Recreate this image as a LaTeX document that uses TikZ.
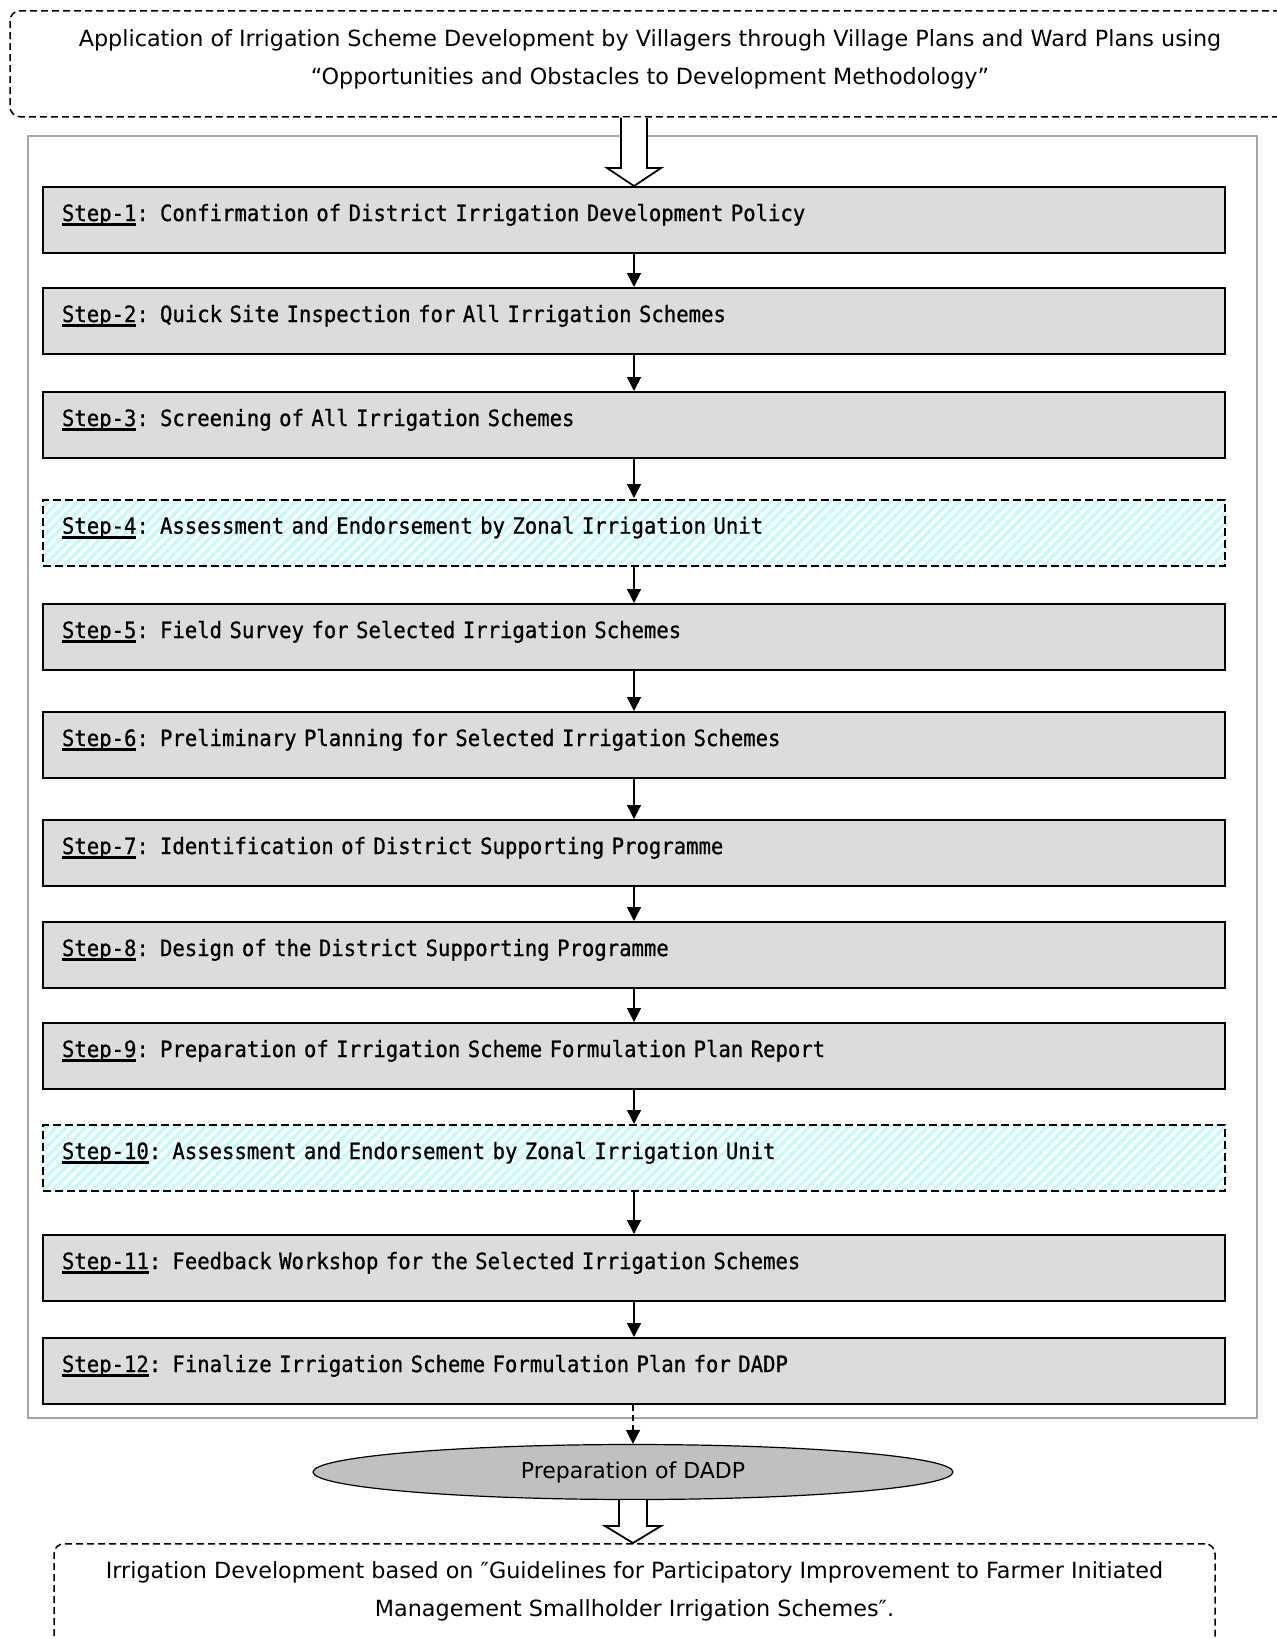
\documentclass[tikz,border=0pt]{standalone}
\usepackage{fontspec}
\setmainfont{DejaVu Sans}
\newfontfamily\stepfont[FakeStretch=0.92, FakeBold=0.8]{DejaVu Sans Mono}
\usetikzlibrary{arrows.meta, calc, patterns.meta, shapes.geometric}
\definecolor{boxgray}{HTML}{DCDCDC}
\definecolor{framegray}{HTML}{A6A6A6}
\definecolor{ovalgray}{HTML}{C0C0C0}
\definecolor{hatchcyan}{HTML}{C4FAFA}
\newcommand{\stepno}[1]{\setbox0\hbox{#1}\rlap{\rule[-2.6pt]{\wd0}{1.6pt}}#1}
\tikzset{
	x=0.5pt, y=-0.5pt,
	tri/.tip={Triangle[length=7pt, width=7pt]},
	% step boxes
	stepbox/.style={draw, line width=1pt, fill=boxgray, minimum width=591pt,
		inner xsep=9.5pt, inner ysep=0pt, text width=572pt, align=left,
		text height=17pt, text depth=16pt, font=\stepfont\fontsize{11.2}{13}\selectfont},
	zonebox/.style={stepbox, fill=none, dash pattern=on 4pt off 2pt,
		preaction={fill=white},
		pattern={Lines[angle=45, distance=3.5pt, line width=1.7pt]}, pattern color=hatchcyan},
	% dashed notes at top and bottom
	note/.style={draw, line width=0.75pt, rounded corners=5pt, dash pattern=on 3.5pt off 2pt,
		inner sep=0pt, align=center, font=\fontsize{11.15}{19}\selectfont},
	oval/.style={ellipse, draw, line width=0.6pt, fill=ovalgray, minimum width=320pt,
		minimum height=27.5pt, inner sep=0pt, font=\fontsize{11}{13}\selectfont},
	frame/.style={draw=framegray, line width=1pt},
	link/.style={-tri, line width=0.75pt},
	hollow/.style={draw, line width=0.9pt, fill=white, line join=miter}
}
\begin{document}
\begin{tikzpicture}
	\useasboundingbox (0,0) rectangle (1277,1639);
	\clip (0,0) rectangle (1277,1639);

	% Frame round the steps
	\draw[frame] (28,136) rectangle (1257,1418);

	\node[note, minimum width=640pt, text height=37pt, text depth=16pt, anchor=north] (top) at (650,10)
		{Application of Irrigation Scheme Development by Villagers through Village Plans and Ward Plans using\\
		“Opportunities and Obstacles to Development Methodology”};

	% Steps
	\foreach \n/\y/\txt in {1/186/{Confirmation of District Irrigation Development Policy},
		2/287/{Quick Site Inspection for All Irrigation Schemes},
		3/391/{Screening of All Irrigation Schemes},
		5/603/{Field Survey for Selected Irrigation Schemes},
		6/711/{Preliminary Planning for Selected Irrigation Schemes},
		7/819/{Identification of District Supporting Programme},
		8/921/{Design of the District Supporting Programme},
		9/1022/{Preparation of Irrigation Scheme Formulation Plan Report},
		11/1234/{Feedback Workshop for the Selected Irrigation Schemes},
		12/1337/{Finalize Irrigation Scheme Formulation Plan for DADP}}
		{\node[stepbox, anchor=north] (s\n) at (634,\y) {\stepno{Step-\n}: \txt};}
	\foreach \n/\y in {4/498, 10/1124}
		{\node[zonebox, anchor=north] (s\n) at (634,\y) {\stepno{Step-\n}: Assessment and Endorsement by Zonal Irrigation Unit};}

	\foreach \i [count=\j from 2] in {1,...,11}{\draw[link] (s\i) -- (s\j);}

	\node[oval] (dadp) at (633,1472) {Preparation of DADP};
	\draw[link, dash pattern=on 3pt off 2pt] (s12.south -| dadp.north) -- (dadp.north);

	\node[note, minimum width=580.5pt, text height=36.5pt, text depth=22.5pt, anchor=north] (bot) at (634.5,1543)
		{Irrigation Development based on ″Guidelines for Participatory Improvement to Farmer Initiated\\
		Management Smallholder Irrigation Schemes″.};

	% Hollow arrows
	\coordinate (a1) at (top.south -| s1.north);
	\draw[hollow] ($(a1)+(-13,0)$) -- ($(s1.north)+(-13,-18)$) -- ($(s1.north)+(-27,-18)$) -- (s1.north)
		-- ($(s1.north)+(27,-18)$) -- ($(s1.north)+(13,-18)$) -- ($(a1)+(13,0)$);
	\coordinate (a2) at (bot.north -| dadp.south);
	\draw[hollow] ($(dadp.south)+(-14,0)$) -- ($(a2)+(-14,-17)$) -- ($(a2)+(-28,-17)$) -- (a2)
		-- ($(a2)+(28,-17)$) -- ($(a2)+(14,-17)$) -- ($(dadp.south)+(14,0)$);
\end{tikzpicture}
\end{document}
